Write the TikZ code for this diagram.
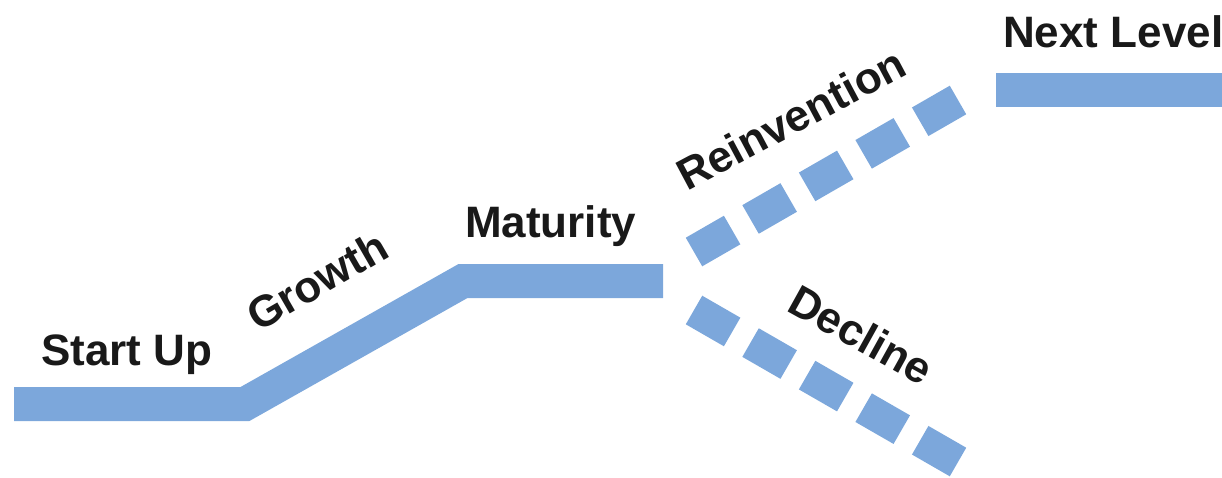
\documentclass[tikz,border=0pt]{standalone}
\usepackage{fontspec}
\setmainfont{Liberation Sans}
\definecolor{bandblue}{RGB}{124,167,219}
\definecolor{ink}{RGB}{25,25,25}
\begin{document}
\begin{tikzpicture}[x=1pt,y=-1pt,
  band/.style={draw=bandblue,line width=34pt,line join=miter,line cap=butt},
  dashband/.style={draw=bandblue,line width=33pt,line cap=butt,dash pattern=on 44pt off 21.25pt},
  lbl/.style={text=ink,font=\fontsize{44}{48}\selectfont\bfseries,inner sep=0pt,anchor=base west}]
\useasboundingbox (0,0) rectangle (1222,477);
% path coordinates
\coordinate (s0) at (14,404);
\coordinate (s1) at (245,404);
\coordinate (m0) at (463,281);
\coordinate (m1) at (663,281);
\coordinate (r0) at (694,252);
\coordinate (r1) at (958,100);
\coordinate (d0) at (694,310);
\coordinate (d1) at (958,462);
\coordinate (n0) at (996,90);
\coordinate (n1) at (1222,90);
% bands
\draw[band] (s0) -- (s1) -- (m0) -- (m1);
\draw[dashband] (r0) -- (r1);
\draw[dashband] (d0) -- (d1);
\draw[band] (n0) -- (n1);
% labels
\node[lbl] (startup) at (41,365) {Start Up};
\node[lbl,rotate=30] (growth) at (258,333) {Growth};
\node[lbl] (maturity) at (465,237) {Maturity};
\node[lbl,rotate=28] (reinv) at (687,192) {Reinvention};
\node[lbl,rotate=-29] (decline) at (785,310) {Decline};
\node[lbl] (next) at (1003,47) {Next Level};
\end{tikzpicture}
\end{document}
